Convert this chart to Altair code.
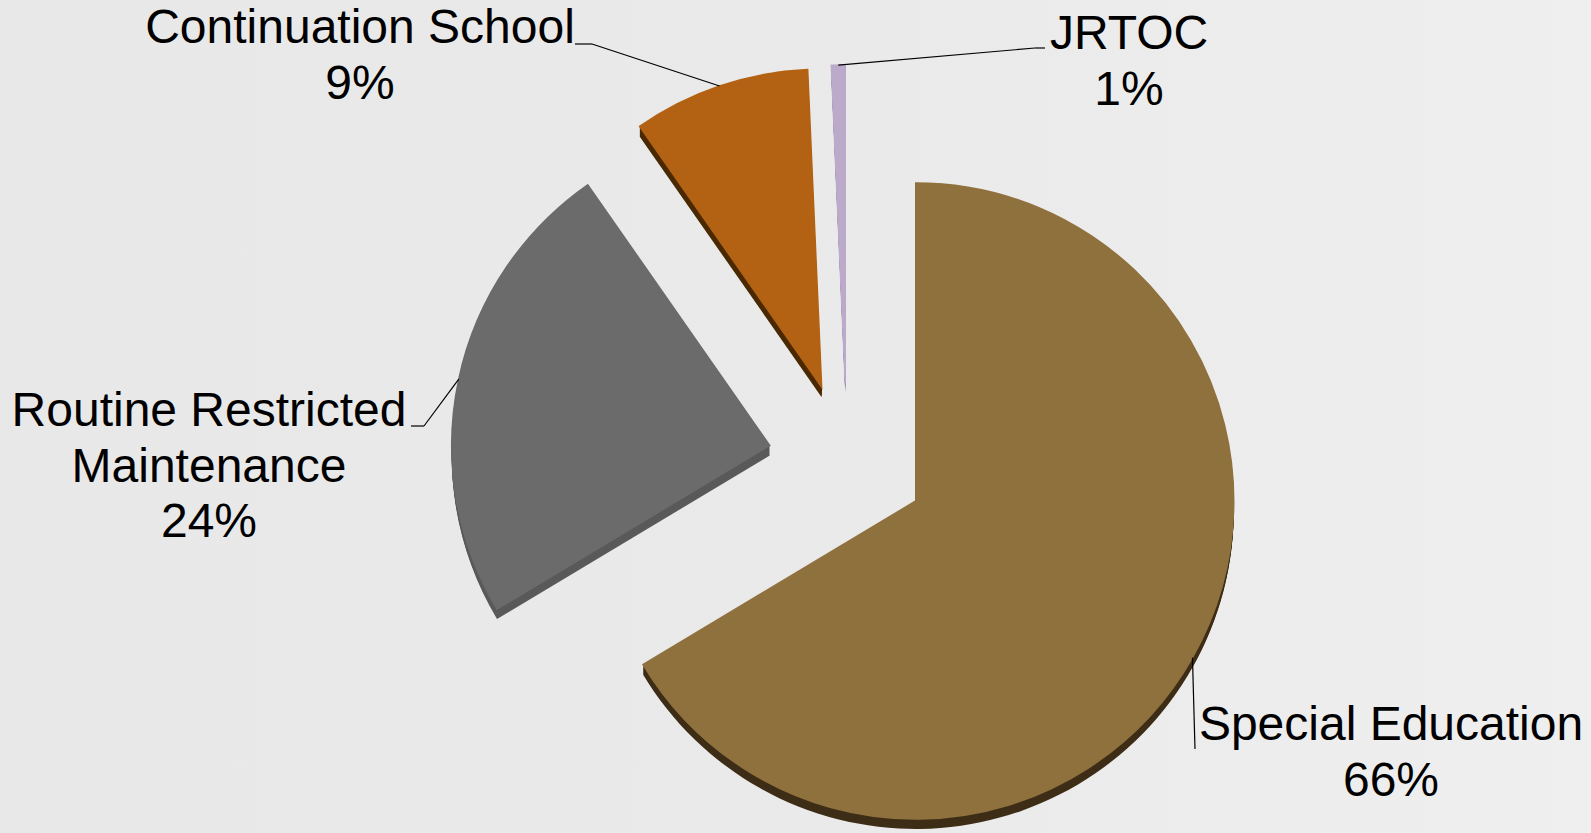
import altair as alt
import pandas as pd

# ---- data ----
CATEGORIES = ["Special Education", "Routine Restricted Maintenance", "Continuation School", "JRTOC"]
SHARES = [66.4, 23.9, 9.0, 0.7]
LABEL_LINES = [["Special Education"], ["Routine Restricted", "Maintenance"], ["Continuation School"], ["JRTOC"]]

# ---- styles ----
TOP_COLORS = ["#8f713e", "#6b6b6b", "#b36214", "#bcaacb"]
SIDE_COLORS = ["#3d2d16", "#595959", "#4a2800", "#8f7ea0"]
FONT = "Liberation Sans"
FONT_SIZE = 48
LINE_H = 55.5

# ---- layout ----
W, H = 1591, 833
CX, CY = 847, 462
RADIUS = 318
EXPLODE = 79
DEPTH_STEPS = list(range(1, 11))
LABEL_X = [1391, 209, 360, 1129]
LABEL_Y = [726, 412, 29, 35]
ELBOW_X = [1195, 424, 592, 1035]
ELBOW_Y = [749, 426, 44, 48]
END_X = [1195, 411, 575, 1045]
END_Y = [749, 426, 44, 48]

slices = pd.DataFrame({
    "category": CATEGORIES,
    "share": SHARES,
    "idx": list(range(len(CATEGORIES))),
    "top": TOP_COLORS,
    "side": SIDE_COLORS,
    "ex": ELBOW_X, "ey": ELBOW_Y, "lx": END_X, "ly": END_Y,
})

depth = slices.merge(pd.DataFrame({"k": DEPTH_STEPS}), how="cross")

total = sum(SHARES)
label_rows = []
for i, (lines, s) in enumerate(zip(LABEL_LINES, SHARES)):
    all_lines = lines + [f"{round(s / total * 100)}%"]
    for j, t in enumerate(all_lines):
        label_rows.append({"text": t, "x": LABEL_X[i], "y": LABEL_Y[i] + j * LINE_H})
labels = pd.DataFrame(label_rows)


def geometry(chart, groupby=None, lift="0"):
    gb = groupby or []
    return (
        chart.transform_joinaggregate(total="sum(share)", groupby=gb)
        .transform_window(cum="sum(share)", groupby=gb, sort=[alt.SortField("idx")], frame=[None, 0])
        .transform_calculate(
            t0="2*PI*(datum.cum - datum.share)/datum.total",
            t1="2*PI*datum.cum/datum.total",
        )
        .transform_calculate(mid="(datum.t0 + datum.t1)/2")
        .transform_calculate(
            cx=f"{CX} + {EXPLODE}*sin(datum.mid)",
            cy=f"{CY} - {EXPLODE}*cos(datum.mid) + {lift}",
        )
        .transform_calculate(
            ax=f"datum.cx + {RADIUS}*sin(datum.mid)",
            ay=f"datum.cy - {RADIUS}*cos(datum.mid)",
        )
    )


bg = alt.Chart(pd.DataFrame({"a": [0]})).mark_rect(
    fill=alt.Gradient(
        gradient="linear", x1=0, x2=1, y1=0, y2=0,
        stops=[alt.GradientStop(color="#e8e8e8", offset=0),
               alt.GradientStop(color="#eaeaea", offset=0.55),
               alt.GradientStop(color="#efefef", offset=1)],
    )
).encode(x=alt.value(0), x2=alt.value(W), y=alt.value(0), y2=alt.value(H))

side_chart = geometry(alt.Chart(depth), groupby=["k"], lift="datum.k").mark_arc(
    outerRadius=RADIUS
).encode(
    x=alt.X("cx:Q", scale=None, axis=None),
    y=alt.Y("cy:Q", scale=None, axis=None),
    theta=alt.Theta("t0:Q", scale=None),
    theta2="t1:Q",
    color=alt.Color("side:N", scale=None),
)

top_chart = geometry(alt.Chart(slices)).mark_arc(outerRadius=RADIUS, strokeWidth=1.5).encode(
    x=alt.X("cx:Q", scale=None, axis=None),
    y=alt.Y("cy:Q", scale=None, axis=None),
    theta=alt.Theta("t0:Q", scale=None),
    theta2="t1:Q",
    color=alt.Color("top:N", scale=None),
    stroke=alt.Stroke("top:N", scale=None),
)

lead1 = geometry(alt.Chart(slices)).mark_rule(color="#000000", strokeWidth=1.2).encode(
    x=alt.X("ax:Q", scale=None, axis=None),
    y=alt.Y("ay:Q", scale=None, axis=None),
    x2="ex:Q",
    y2="ey:Q",
)
lead2 = alt.Chart(slices).mark_rule(color="#000000", strokeWidth=1.2).encode(
    x=alt.X("ex:Q", scale=None, axis=None),
    y=alt.Y("ey:Q", scale=None, axis=None),
    x2="lx:Q",
    y2="ly:Q",
)

text = alt.Chart(labels).mark_text(
    font=FONT, fontSize=FONT_SIZE, color="#000000", align="center", baseline="middle"
).encode(
    x=alt.X("x:Q", scale=None, axis=None),
    y=alt.Y("y:Q", scale=None, axis=None),
    text="text:N",
)

chart = (
    alt.layer(bg, side_chart, top_chart, lead1, lead2, text)
    .properties(width=W, height=H, padding=0, autosize=alt.AutoSizeParams(type="none"))
    .configure_view(stroke=None)
    .configure(background="#ebebeb")
)

chart.save("out.html", embed_options={"renderer": "svg", "actions": False})
